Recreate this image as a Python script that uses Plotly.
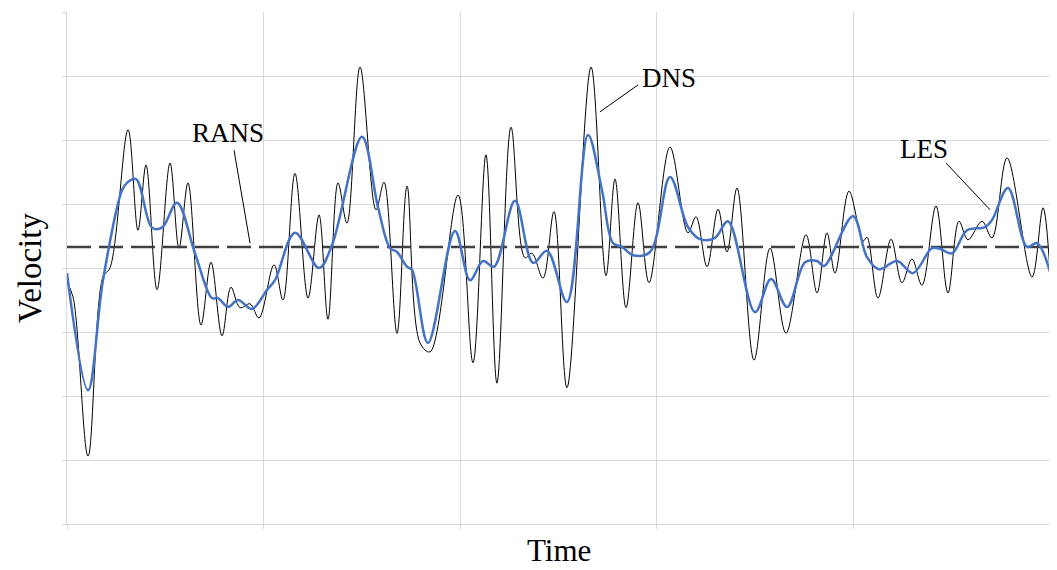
import plotly.graph_objects as go

# DNS (instantaneous, fully resolved) signal
dns_t = [0, 0.61, 2.14, 3.66, 4.37, 6.21, 7.22, 8.04, 9.16, 10.48, 11.39, 12.31, 13.63, 14.65,
         15.77, 16.68, 17.60, 18.62, 19.53, 21.06, 21.97, 23.19, 24.52, 25.64, 26.55, 27.57,
         28.48, 29.81, 31.43, 32.25, 33.57, 34.59, 35.91, 36.93, 39.78, 41.30, 42.62, 43.74,
         45.17, 46.59, 47.30, 48.42, 49.54, 50.86, 53.31, 54.83, 55.75, 56.87, 58.09, 59.21,
         61.34, 63.17, 63.99, 65.11, 66.23, 67.14, 68.16, 69.89, 71.52, 73.14, 75.18, 76.30,
         77.31, 78.13, 79.55, 80.98, 81.38, 82.50, 83.83, 84.94, 85.96, 86.98, 88.40, 89.62,
         90.74, 91.66, 93.08, 94.10, 95.63, 98.17, 99.29, 100]
dns_v = [3.77, 3.55, 1.06, 3.86, 4.00, 6.16, 4.59, 5.61, 3.66, 5.64, 4.31, 5.33, 3.11, 4.09,
         2.94, 3.70, 3.38, 3.44, 3.22, 4.05, 3.50, 5.48, 3.53, 4.83, 3.20, 5.33,
         4.70, 7.14, 4.91, 5.34, 2.98, 5.28, 2.83, 2.69, 5.14, 2.52, 5.77, 2.20,
         6.20, 4.16, 4.23, 3.84, 4.88, 2.13, 7.14, 3.88, 5.39, 3.38, 5.02, 3.77,
         5.89, 4.55, 4.80, 4.02, 4.92, 4.25, 5.25, 2.56, 4.31, 2.98, 4.52, 3.61,
         4.55, 3.92, 5.20, 4.42, 4.48, 3.53, 4.45, 3.77, 4.14, 3.73, 4.97, 3.61,
         4.73, 4.44, 4.73, 4.47, 5.72, 3.86, 4.94, 3.94]

# LES (filtered) signal
les_t = [0, 2.14, 3.66, 5.60, 6.10, 7.02, 8.65, 9.66, 11.19, 13.02, 14.75, 15.36, 16.38, 17.40,
         18.82, 20.35, 21.16, 23.19, 25.64, 26.96, 30.01, 31.64, 32.86, 33.57, 34.59, 35.10,
         36.72, 39.47, 41.00, 42.32, 43.44, 45.57, 47.41, 48.83, 50.86, 53.00, 54.42, 55.54,
         56.46, 57.58, 59.31, 61.34, 63.17, 64.39, 65.92, 67.24, 69.99, 71.62, 73.25, 75.08,
         76.30, 77.01, 79.96, 81.38, 82.60, 84.44, 86.06, 87.99, 88.81, 90.03, 91.56, 93.39,
         94.10, 95.73, 97.66, 98.68, 100]
les_v = [3.92, 2.09, 3.81, 5.22, 5.33, 5.39, 4.63, 4.63, 5.02, 4.23, 3.53, 3.53, 3.39, 3.50,
         3.36, 3.66, 3.81, 4.55, 4.00, 4.36, 6.05, 4.95, 4.31, 4.25, 4.02, 3.97,
         2.83, 4.58, 3.81, 4.11, 4.02, 5.05, 4.08, 4.27, 3.47, 6.08, 5.22, 4.39,
         4.33, 4.20, 4.25, 5.42, 4.64, 4.45, 4.47, 4.73, 3.31, 3.83, 3.39, 4.09,
         4.11, 4.03, 4.81, 4.17, 3.98, 4.11, 3.92, 4.31, 4.30, 4.23, 4.59, 4.64,
         4.75, 5.25, 4.33, 4.39, 3.94]

# RANS (time-averaged) value
rans_t = [0, 100]
rans_v = [4.33, 4.33]

x_ticks = [0, 20, 40, 60, 80, 100]
y_ticks = [0, 1, 2, 3, 4, 5, 6, 7, 8]

FONT = "Liberation Serif"

fig = go.Figure()
fig.add_trace(go.Scatter(x=dns_t, y=dns_v, mode="lines", name="DNS",
                         line=dict(color="black", width=1, shape="spline", smoothing=1.0)))
fig.add_trace(go.Scatter(x=rans_t, y=rans_v, mode="lines", name="RANS",
                         line=dict(color="#404040", width=2.5, dash="24px,8px")))
fig.add_trace(go.Scatter(x=les_t, y=les_v, mode="lines", name="LES",
                         line=dict(color="#4472C4", width=2.5, shape="spline", smoothing=1.0)))

# labels with leader lines
labels = [("RANS", 16.38, 6.11, (16.99, 5.84), (18.62, 4.39)),
          ("DNS", 61.29, 6.97, (58.09, 6.86), (54.22, 6.44)),
          ("LES", 87.18, 5.86, (89.42, 5.64), (93.90, 4.91))]
for txt, tx, ty, p0, p1 in labels:
    fig.add_annotation(x=tx, y=ty, text=txt, showarrow=False,
                       font=dict(family=FONT, size=27, color="black"))
    fig.add_shape(type="line", x0=p0[0], y0=p0[1], x1=p1[0], y1=p1[1],
                  line=dict(color="black", width=1))

fig.add_annotation(x=-0.0376, y=0.5, xref="paper", yref="paper", text="Velocity",
                   textangle=-90, showarrow=False, xanchor="center", yanchor="middle",
                   font=dict(family=FONT, size=33, color="black"))
fig.add_annotation(x=0.5, y=-0.0898, xref="paper", yref="paper", text="Time",
                   showarrow=False, xanchor="center", yanchor="bottom",
                   font=dict(family=FONT, size=31, color="black"))

axis_common = dict(showgrid=True, gridcolor="#d9d9d9", gridwidth=1, zeroline=False,
                   showline=True, linecolor="#d9d9d9", linewidth=1,
                   ticks="outside", ticklen=4, tickcolor="#d9d9d9", showticklabels=False)
fig.update_xaxes(range=[0, 100], tickvals=x_ticks, **axis_common)
fig.update_yaxes(range=[0, 8], tickvals=y_ticks, **axis_common)

fig.update_layout(width=1049, height=562, showlegend=False,
                  margin=dict(l=59, r=7, t=4, b=46),
                  plot_bgcolor="white", paper_bgcolor="white")

fig.write_html("out.html")
